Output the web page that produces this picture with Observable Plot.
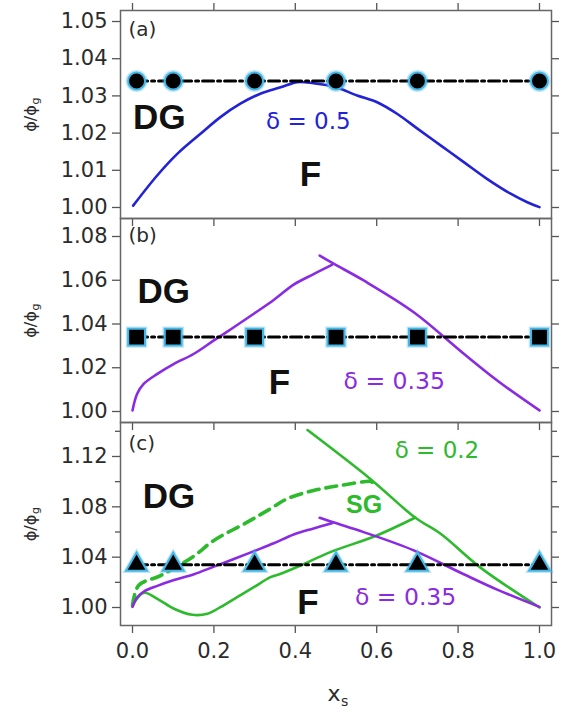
<!DOCTYPE html>
<html><head><meta charset="utf-8">
<script src="https://cdn.jsdelivr.net/npm/d3@7"></script>
<script src="https://cdn.jsdelivr.net/npm/@observablehq/plot@0.6"></script>
<style>
html,body{margin:0;padding:0;background:#fff;}
#chart{position:relative;width:568px;height:712px;overflow:hidden;background:#fff;}
</style></head><body><div id="chart"></div>
<script>
// ---- tick values / labels ----
const xTicks = [0, 0.2, 0.4, 0.6, 0.8, 1.0];
const xTickLabels = ["0.0", "0.2", "0.4", "0.6", "0.8", "1.0"];
const yTicksA = [1.00, 1.01, 1.02, 1.03, 1.04, 1.05];
const yTickLabelsA = ["1.00", "1.01", "1.02", "1.03", "1.04", "1.05"];
const yTicksB = [1.00, 1.02, 1.04, 1.06, 1.08];
const yTickLabelsB = ["1.00", "1.02", "1.04", "1.06", "1.08"];
const yTicksC = [1.00, 1.04, 1.08, 1.12];
const yTickLabelsC = ["1.00", "1.04", "1.08", "1.12"];
const yMinorC = [1.02, 1.06, 1.10, 1.14];

// ---- simulation markers (phi/phi_g = 1.034) ----
const markerX = [0.01, 0.1, 0.3, 0.5, 0.7, 1.0];
const markerY = [1.034, 1.034, 1.034, 1.034, 1.034, 1.034];

// ---- (a) delta = 0.5 ----
const d05X = [0.0016, 0.0606, 0.110, 0.167, 0.216, 0.265, 0.314, 0.364, 0.405, 0.445, 0.495, 0.552, 0.601, 0.650, 0.700, 0.757, 0.814, 0.871, 0.929, 0.970, 1.0];
const d05Y = [1.0005, 1.0086, 1.0144, 1.0198, 1.0243, 1.0279, 1.0306, 1.0323, 1.0337, 1.0334, 1.0325, 1.0301, 1.0283, 1.0252, 1.0212, 1.0167, 1.0122, 1.0077, 1.0037, 1.0014, 1.0001];

// ---- delta = 0.35 (panels b and c) ----
const d035LowX = [0.0, 0.0115, 0.028, 0.061, 0.102, 0.151, 0.200, 0.249, 0.298, 0.347, 0.396, 0.445, 0.490];
const d035LowY = [1.0005, 1.0081, 1.0127, 1.0172, 1.0218, 1.0264, 1.0325, 1.0385, 1.0447, 1.0510, 1.0580, 1.0628, 1.0670];
const d035HighX = [0.460, 0.495, 0.568, 0.691, 0.814, 0.896, 1.0];
const d035HighY = [1.0713, 1.0675, 1.0599, 1.0454, 1.0264, 1.0142, 1.0005];

// ---- (c) delta = 0.2 ----
const d02LowX = [0.0, 0.028, 0.061, 0.102, 0.147, 0.184, 0.216, 0.257, 0.298, 0.339, 0.364, 0.413, 0.486, 0.600, 0.695];
const d02LowY = [1.0016, 1.0117, 1.0069, 0.9990, 0.9942, 0.9950, 1.0003, 1.0082, 1.0161, 1.0241, 1.0268, 1.0334, 1.0440, 1.0572, 1.0715];
const d02DashX = [0.0, 0.015, 0.069, 0.147, 0.200, 0.282, 0.339, 0.380, 0.445, 0.511, 0.585, 0.590];
const d02DashY = [1.0016, 1.0175, 1.0254, 1.0400, 1.0533, 1.0678, 1.0785, 1.0864, 1.0930, 1.0970, 1.1002, 1.0994];
const d02DiagX = [0.430, 0.585, 0.695, 0.757, 0.855, 1.0];
const d02DiagY = [1.1410, 1.1020, 1.0713, 1.0586, 1.0317, 1.0];

// ---- text labels ----
const regionLabels = ["DG", "F"];
const aRegionX = [0.066, 0.437], aRegionY = [1.0212, 1.0059];
const bRegionX = [0.077, 0.361], bRegionY = [1.0498, 1.0082];
const cRegionX = [0.0897, 0.431], cRegionY = [1.0787, 0.9952];
const deltaLabels = ["δ = 0.5", "δ = 0.35", "δ = 0.2"];
const panelTags = ["(a)", "(b)", "(c)"];

const BLUE = "#2222d6", PURPLE = "#8a2be2", GREEN = "#2dba2d", CYAN = "#45b6e4";
const zip = (xs, ys) => xs.map((x, i) => ({x, y: ys[i]}));
const lookup = (ticks, labels) => d => labels[ticks.indexOf(d)];
const blank = () => "";
const chart = document.getElementById("chart");
const AX = {stroke: "#555", strokeWidth: 1.3, label: null};
const curveLine = (xs, ys, opts) => Plot.line(zip(xs, ys), {x: "x", y: "y", curve: "catmull-rom", strokeWidth: 2.6, ...opts});

function axes(yTicks, yLabels, yMinor, xLabeled, topTicks) {
  const m = [
    Plot.axisY({...AX, anchor: "left", ticks: yTicks, tickSize: 8, tickPadding: 5, tickFormat: lookup(yTicks, yLabels), fill: "#2b2b2b"}),
    Plot.axisY({...AX, anchor: "right", ticks: yTicks, tickSize: 7, tickFormat: blank}),
    Plot.axisX({...AX, anchor: "bottom", ticks: xTicks, tickSize: 8, tickPadding: 10,
      tickFormat: xLabeled ? lookup(xTicks, xTickLabels) : blank, fill: "#2b2b2b", fontSize: 21})
  ];
  if (yMinor) {
    m.push(Plot.axisY({...AX, anchor: "left", ticks: yMinor, tickSize: 5, tickFormat: blank}));
    m.push(Plot.axisY({...AX, anchor: "right", ticks: yMinor, tickSize: 5, tickFormat: blank}));
  }
  if (topTicks) m.push(Plot.axisX({...AX, anchor: "top", ticks: xTicks, tickSize: 8, tickFormat: blank}));
  m.push(Plot.frame({stroke: "#666", strokeWidth: 1.5}));
  return m;
}

function yLabel() {
  return [
    Plot.text(["ϕ/ϕ"], {frameAnchor: "left", dx: -90, dy: 4, rotate: -90, textAnchor: "middle", fontSize: 16, fill: "#2b2b2b"}),
    Plot.text(["g"], {frameAnchor: "left", dx: -85, dy: -10, rotate: -90, textAnchor: "start", fontSize: 11, fill: "#2b2b2b"})
  ];
}

function markers(symbol, r) {
  const pts = zip(markerX, markerY);
  return [
    Plot.line(pts, {x: "x", y: "y", stroke: "#000", strokeWidth: 3, strokeDasharray: "11,4,3,4"}),
    Plot.dot(pts, {x: "x", y: "y", symbol, r: r + 1.5, fill: "none", stroke: CYAN, strokeOpacity: 0.35, strokeWidth: 2}),
    Plot.dot(pts, {x: "x", y: "y", symbol, r, fill: "#000", stroke: CYAN, strokeWidth: 2})
  ];
}

const regionText = (xs, ys) => Plot.text(regionLabels, {x: (d, i) => xs[i], y: (d, i) => ys[i],
  textAnchor: "middle", lineAnchor: "bottom", fontFamily: "Liberation Sans, Arial, sans-serif",
  fontWeight: "bold", fontSize: 35, fill: "#111"});
const tag = (i, y) => Plot.text([panelTags[i]], {x: [-0.01], y: [y], textAnchor: "start", lineAnchor: "bottom", fontSize: 20, fill: "#2b2b2b"});
const single = (s, x, y, opts) => Plot.text([s], {x: [x], y: [y], textAnchor: "middle", lineAnchor: "bottom", ...opts});

function makePanel(top, height, mt, mb, yDomain, marks) {
  const svg = Plot.plot({
    width: 568, height, marginLeft: 120, marginRight: 17, marginTop: mt, marginBottom: mb,
    x: {domain: [-0.0295, 1.0295]},
    y: {domain: yDomain},
    style: {fontFamily: "DejaVu Sans, sans-serif", fontSize: "21px", color: "#2b2b2b", background: "transparent", overflow: "visible"},
    marks
  });
  svg.style.position = "absolute";
  svg.style.left = "0px";
  svg.style.top = top + "px";
  svg.style.overflow = "visible";
  svg.style.background = "transparent";
  chart.appendChild(svg);
}

// (a)
makePanel(0, 218, 10, 0, [0.99704, 1.05296], [
  ...axes(yTicksA, yTickLabelsA, null, false, true),
  ...yLabel(),
  curveLine(d05X, d05Y, {stroke: BLUE}),
  ...markers("circle", 8.5),
  regionText(aRegionX, aRegionY),
  single(deltaLabels[0], 0.432, 1.0212, {fontSize: 23, fill: BLUE}),
  tag(0, 1.0460)
]);

// (b)
makePanel(218, 204, 0, 0, [0.99497, 1.08823], [
  ...axes(yTicksB, yTickLabelsB, null, false, false),
  ...yLabel(),
  curveLine(d035LowX, d035LowY, {stroke: PURPLE}),
  curveLine(d035HighX, d035HighY, {stroke: PURPLE}),
  ...markers("square", 9.5),
  regionText(bRegionX, bRegionY),
  single(deltaLabels[1], 0.643, 1.0105, {fontSize: 23.5, fill: PURPLE}),
  tag(1, 1.0773)
]);

// (c)
makePanel(422, 290, 0, 87, [0.9857, 1.147], [
  ...axes(yTicksC, yTickLabelsC, yMinorC, true, false),
  ...yLabel(),
  curveLine(d02LowX, d02LowY, {stroke: GREEN}),
  curveLine(d02DashX, d02DashY, {stroke: GREEN, strokeWidth: 3.6, strokeDasharray: "11,7"}),
  curveLine(d02DiagX, d02DiagY, {stroke: GREEN}),
  curveLine(d035LowX, d035LowY, {stroke: PURPLE}),
  curveLine(d035HighX, d035HighY, {stroke: PURPLE}),
  ...markers("triangle", 7.8),
  regionText(cRegionX, cRegionY),
  single("SG", 0.569, 1.0747, {fontFamily: "Liberation Sans, Arial, sans-serif", fontWeight: "bold", fontSize: 25, fill: GREEN}),
  single(deltaLabels[1], 0.671, 1.0016, {fontSize: 23.5, fill: PURPLE}),
  single(deltaLabels[2], 0.748, 1.1184, {fontSize: 23, fill: GREEN}),
  tag(2, 1.1248),
  Plot.text(["x"], {frameAnchor: "bottom", dx: -2, dy: 75, lineAnchor: "bottom", fontSize: 22, fill: "#2b2b2b"}),
  Plot.text(["s"], {frameAnchor: "bottom", dx: 5, dy: 80, textAnchor: "start", lineAnchor: "bottom", fontSize: 14, fill: "#2b2b2b"})
]);
</script></body></html>
